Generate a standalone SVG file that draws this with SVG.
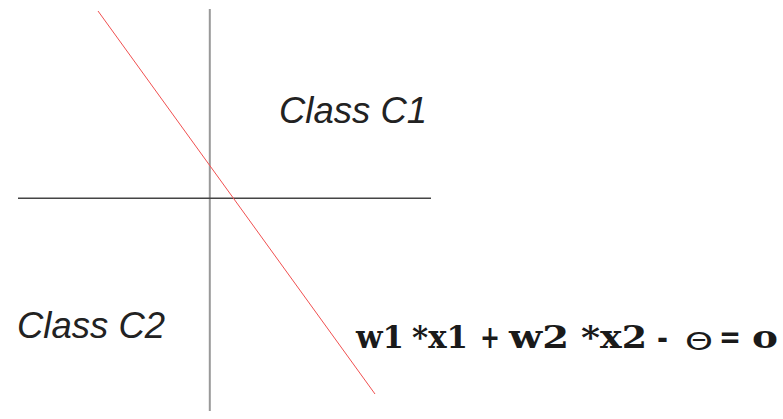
<svg xmlns="http://www.w3.org/2000/svg" width="783" height="419" viewBox="0 0 783 419">
<style>
.lbl{font-family:"Liberation Sans",Arial,sans-serif;font-style:italic;font-size:36.5px;fill:#222}
.eq{font-family:"DejaVu Serif","Liberation Serif",serif;font-weight:bold;font-size:32px;fill:#1a1a1a}
.th{font-family:"DejaVu Sans","Liberation Sans",sans-serif;font-weight:normal;font-size:25px;fill:#1a1a1a}
</style>
<rect width="783" height="419" fill="#fff"/>
<g id="connectors">
<line id="axis-y" x1="209.8" y1="9" x2="209.8" y2="411" stroke="#999" stroke-width="2"/>
<line id="axis-x" x1="18" y1="198.3" x2="431" y2="198.3" stroke="#444" stroke-width="1.5"/>
<line id="boundary" x1="98" y1="11" x2="375" y2="394" stroke="#f05050" stroke-width="1"/>
</g>
<g id="class-c1"><text class="lbl" x="279" y="123">Class C1</text></g>
<g id="class-c2"><text class="lbl" x="17" y="338">Class C2</text></g>
<g id="equation">
<text class="eq" x="356" y="348" textLength="48" lengthAdjust="spacingAndGlyphs">w1</text>
<text class="eq" x="412" y="348" textLength="56" lengthAdjust="spacingAndGlyphs">*x1</text>
<text class="eq" x="480" y="348" textLength="20" lengthAdjust="spacingAndGlyphs">+</text>
<text class="eq" x="509" y="348" textLength="60" lengthAdjust="spacingAndGlyphs">w2</text>
<text class="eq" x="581" y="348" textLength="66" lengthAdjust="spacingAndGlyphs">*x2</text>
<text class="eq" x="657" y="348" textLength="11" lengthAdjust="spacingAndGlyphs">-</text>
<text class="th" x="685" y="350" textLength="28" lengthAdjust="spacingAndGlyphs">Θ</text>
<text class="eq" x="719" y="348" textLength="22" lengthAdjust="spacingAndGlyphs">=</text>
<text class="eq" x="752" y="348" textLength="26" lengthAdjust="spacingAndGlyphs">o</text>
</g>
</svg>
